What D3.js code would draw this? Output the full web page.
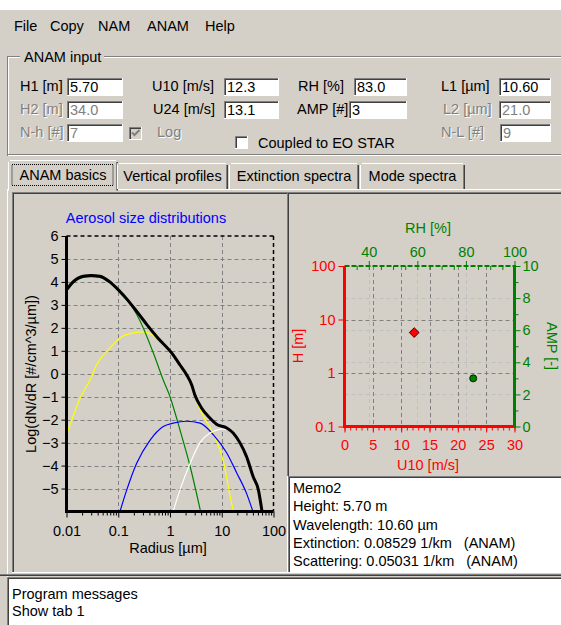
<!DOCTYPE html>
<html>
<head>
<meta charset="utf-8">
<script src="https://cdn.jsdelivr.net/npm/d3@7"></script>
<style>
body { margin: 0; background: #fff; overflow: hidden; }
svg { display: block; font-family: "Liberation Sans", Arial, sans-serif; }
</style>
</head>
<body>
<svg width="561" height="625"></svg>
<script>
// ================= DATA =================
const menuItems = ["File", "Copy", "NAM", "ANAM", "Help"];
const inputLabels = [["H1 [m]", "U10 [m/s]", "RH [%]", "L1 [µm]"],
                     ["H2 [m]", "U24 [m/s]", "AMP [#]", "L2 [µm]"],
                     ["N-h [#]", null, null, "N-L [#]"]];
const inputValues = [["5.70", "12.3", "83.0", "10.60"],
                     ["34.0", "13.1", "3", "21.0"],
                     ["7", null, null, "9"]];
const inputEnabled = [[1, 1, 1, 1], [0, 1, 1, 0], [0, 0, 0, 0]];
const tabNames = ["ANAM basics", "Vertical profiles", "Extinction spectra", "Mode spectra"];

// size distributions: [radius um, log(dN/dR)]
const totalDist = [[0.01,3.65],[0.0134,4.0],[0.021,4.25],[0.03,4.28],[0.044,4.25],[0.069,4.0],[0.108,3.58],
  [0.147,3.25],[0.23,2.7],[0.36,2.13],[0.56,1.6],[1.15,0.82],[1.56,0.38],[2.1,-0.05],[2.63,-0.49],[3.0,-0.9],
  [4.1,-1.5],[5.9,-1.93],[7.9,-2.2],[12.5,-2.36],[16.6,-2.58],[22.4,-3.0],[30,-3.6],[40.7,-4.5],[51,-5.06],[60,-6]];
const mode1Dist = [[0.01,3.6],[0.0134,3.95],[0.021,4.2],[0.03,4.23],[0.044,4.2],[0.069,3.95],[0.108,3.53],
  [0.147,3.2],[0.2,2.8],[0.264,2.3],[0.51,0.73],[0.74,-0.27],[1.0,-1.0],[1.56,-2.45],[2.45,-4.04],[3.9,-6]];
const mode2Dist = [[0.01,-2.66],[0.0196,-0.93],[0.0285,-0.27],[0.038,0.38],[0.069,1.12],[0.108,1.56],[0.194,1.78],
  [0.3,1.82],[0.45,1.7],[0.56,1.55],[1.15,0.77],[1.56,0.33],[2.1,-0.1],[2.63,-0.54],[3.0,-0.95],[4.1,-1.7],
  [6.8,-2.6],[10.6,-3.76],[16.5,-5.9],[17,-6]];
const mode3Dist = [[0.108,-6],[0.146,-5.06],[0.227,-3.9],[0.41,-2.9],[0.74,-2.3],[1.15,-2.15],[2.1,-2.07],
  [3.8,-2.15],[6.9,-2.66],[12.5,-3.45],[19.5,-4.32],[30,-5.2],[40,-6]];
const mode4Dist = [[1.15,-6],[1.56,-5.06],[2.45,-3.9],[3.8,-3.0],[5.9,-2.58],[8.5,-2.44],[10,-2.4],[12.5,-2.42],
  [16.6,-2.63],[22.4,-3.05],[30,-3.65],[40.7,-4.55],[51,-5.1],[60,-6]];
const radiusTicks = [0.01, 0.1, 1, 10, 100];
const logNTicks = [-5, -4, -3, -2, -1, 0, 1, 2, 3, 4, 5, 6];

const u10Ticks = [0, 5, 10, 15, 20, 25, 30];
const heightTicks = [0.1, 1, 10, 100];
const rhTicks = [40, 60, 80, 100];
const ampTicks = [0, 2, 4, 6, 8, 10];
const u10Value = 12.3, heightValue = 5.70, rhValue = 83.0, ampValue = 3;

const memoLines = ["Memo2", "Height: 5.70 m", "Wavelength: 10.60 µm",
  "Extinction: 0.08529 1/km   (ANAM)", "Scattering: 0.05031 1/km   (ANAM)"];
const messageLines = ["Program messages", "Show tab 1"];

// ================= HELPERS =================
const svg = d3.select("svg");
const FS = "14.5px";
const BG = "#d4d0c8";

function hline(g, x1, x2, y, c) { g.append("line").attr("x1", x1).attr("x2", x2).attr("y1", y).attr("y2", y).attr("stroke", c); }
function vline(g, x, y1, y2, c) { g.append("line").attr("x1", x).attr("x2", x).attr("y1", y1).attr("y2", y2).attr("stroke", c); }
function text(g, x, y, s, fill, anchor) {
  return g.append("text").attr("x", x).attr("y", y).text(s).attr("fill", fill || "#000")
    .attr("font-size", FS).attr("text-anchor", anchor || "start").style("white-space", "pre");
}
function sunken(g, x, y, w, h, fill) {
  g.append("rect").attr("x", x).attr("y", y).attr("width", w).attr("height", h).attr("fill", fill || "#fff");
  hline(g, x, x + w, y + 0.5, "#808080"); vline(g, x + 0.5, y, y + h, "#808080");
  hline(g, x + 1, x + w - 1, y + 1.5, "#404040"); vline(g, x + 1.5, y + 1, y + h - 1, "#404040");
  hline(g, x, x + w, y + h - 0.5, "#fff"); vline(g, x + w - 0.5, y, y + h, "#fff");
}

// ================= WINDOW =================
svg.append("rect").attr("x", 0).attr("y", 10).attr("width", 561).attr("height", 615).attr("fill", BG);

const ui = svg.append("g");
const menuX = [14, 50, 98, 147, 205];
menuItems.forEach((m, i) => text(ui, menuX[i], 31, m));

// group box
hline(ui, 7, 561, 56.5, "#808080"); hline(ui, 8, 561, 57.5, "#fff");
vline(ui, 7.5, 56, 156, "#808080"); vline(ui, 8.5, 57, 155, "#fff");
hline(ui, 7, 561, 154.5, "#808080"); hline(ui, 8, 561, 155.5, "#fff");
ui.append("rect").attr("x", 20).attr("y", 50).attr("width", 84).attr("height", 14).attr("fill", BG);
text(ui, 24, 62, "ANAM input");

const rowY = [78, 101, 124];
const labelX = [[20, 152, 298, 441], [20, 153, 297, 443], [20, 0, 0, 441]];
const boxX = [[67, 224, 354, 499], [67, 224, 349, 499], [67, 0, 0, 500]];
const boxR = [123, 279, 407, 551];
inputLabels.forEach((row, r) => row.forEach((lab, c) => {
  if (lab === null) return;
  const on = inputEnabled[r][c];
  if (!on) text(ui, labelX[r][c] + 1, rowY[r] + 14, lab, "#fff");
  text(ui, labelX[r][c], rowY[r] + 13, lab, on ? "#000" : "#808080");
  sunken(ui, boxX[r][c], rowY[r], boxR[c] - boxX[r][c], 18);
  text(ui, boxX[r][c] + 3, rowY[r] + 14, inputValues[r][c], on ? "#000" : "#808080");
}));

// checkboxes
sunken(ui, 129, 127, 13, 13, BG);
ui.append("path").attr("d", "M132,132.5 l2.5,2.5 l5,-5").attr("fill", "none").attr("stroke", "#808080").attr("stroke-width", 2);
text(ui, 158, 138, "Log", "#fff"); text(ui, 157, 137, "Log", "#808080");
sunken(ui, 235, 136, 13, 13);
text(ui, 258, 148, "Coupled to EO STAR");

// tabs
const tabX = [10, 117, 229, 360, 466];
hline(ui, 7, 561, 189.5, "#fff");
tabNames.forEach((t, i) => {
  const sel = i === 0;
  const x0 = sel ? tabX[i] - 2 : tabX[i], x1 = tabX[i + 1] - (sel ? -1 : 1);
  const y0 = sel ? 160 : 163, y1 = sel ? 190.5 : 189;
  ui.append("rect").attr("x", x0).attr("y", y0).attr("width", x1 - x0).attr("height", y1 - y0).attr("fill", BG);
  hline(ui, x0 + 2, x1 - 2, y0 + 0.5, "#fff"); vline(ui, x0 + 0.5, y0 + 2, y1, "#fff");
  vline(ui, x1 - 1.5, y0 + 2, y1, "#808080"); vline(ui, x1 - 0.5, y0 + 2, y1, "#404040");
  text(ui, (x0 + x1) / 2, y0 + (sel ? 20 : 18), t, "#000", "middle");
  if (sel) ui.append("rect").attr("x", x0 + 4).attr("y", y0 + 4.5).attr("width", x1 - x0 - 9).attr("height", 21)
    .attr("fill", "none").attr("stroke", "#000").attr("stroke-dasharray", "1,1");
});
vline(ui, 7.5, 189, 577, "#fff");

// panels
sunken(ui, 12, 192, 276, 381, BG);
sunken(ui, 287, 192, 280, 285, BG);
sunken(ui, 288, 476, 280, 97, "#fff");
memoLines.forEach((s, i) => text(ui, 293, 493 + i * 18.3, s));
hline(ui, 0, 561, 574.5, "#808080"); hline(ui, 0, 561, 575.5, "#404040");
sunken(ui, 7, 577, 560, 60, "#fff");
messageLines.forEach((s, i) => text(ui, 12, 599 + i * 16.5, s));

// ================= SIZE DISTRIBUTION CHART =================
const left = svg.append("g");
const xs = d3.scaleLog().domain([0.01, 100]).range([66.5, 273.5]);
const ys = d3.scaleLinear().domain([-6, 6]).range([511.5, 236]);

text(left, 146, 223, "Aerosol size distributions", "#0000ff", "middle");

// grid
[0.1, 1, 10].forEach(v => left.append("line").attr("x1", Math.round(xs(v)) + 0.5).attr("x2", Math.round(xs(v)) + 0.5)
  .attr("y1", ys(6)).attr("y2", ys(-6)).attr("stroke", "#808080").attr("stroke-dasharray", "4,3"));
d3.range(-5, 6).forEach(v => left.append("line").attr("x1", xs(0.01)).attr("x2", xs(100))
  .attr("y1", Math.round(ys(v)) + 0.5).attr("y2", Math.round(ys(v)) + 0.5).attr("stroke", "#808080").attr("stroke-dasharray", "4,3"));
left.append("line").attr("x1", xs(0.01)).attr("x2", xs(100)).attr("y1", ys(6)).attr("y2", ys(6))
  .attr("stroke", "#000").attr("stroke-width", 1.5).attr("stroke-dasharray", "4,3");
left.append("line").attr("x1", xs(100)).attr("x2", xs(100)).attr("y1", ys(6)).attr("y2", ys(-6))
  .attr("stroke", "#000").attr("stroke-width", 1.5).attr("stroke-dasharray", "4,3");

// curves
left.append("clipPath").attr("id", "clipL").append("rect")
  .attr("x", xs(0.01)).attr("y", ys(6)).attr("width", xs(100) - xs(0.01)).attr("height", ys(-6) - ys(6));
const line = d3.line().x(d => xs(d[0])).y(d => ys(d[1])).curve(d3.curveMonotoneX);
const curves = left.append("g").attr("clip-path", "url(#clipL)");
[[mode2Dist, "#ffff00"], [mode1Dist, "#008000"], [mode3Dist, "#0000ff"], [mode4Dist, "#ffffff"]].forEach(([d, c]) =>
  curves.append("path").datum(d).attr("fill", "none").attr("stroke", c).attr("stroke-width", 1.2).attr("d", line));
curves.append("path").datum(totalDist).attr("fill", "none").attr("stroke", "#000").attr("stroke-width", 3).attr("d", line);

// axes
function styleAxis(g, color) {
  g.select(".domain").remove();
  g.selectAll("line").attr("stroke", color);
  g.selectAll("text").attr("font-size", FS).attr("fill", color).attr("font-family", "Liberation Sans, Arial, sans-serif");
}
const minorR = [];
[0.01, 0.1, 1, 10].forEach(d => d3.range(2, 10).forEach(k => minorR.push(d * k)));
left.append("g").attr("transform", "translate(0," + ys(-6) + ")")
  .call(d3.axisBottom(xs).tickValues(minorR).tickSize(4).tickFormat("")).call(g => styleAxis(g, "#000"));
left.append("g").attr("transform", "translate(0," + ys(-6) + ")")
  .call(d3.axisBottom(xs).tickValues(radiusTicks).tickSize(6).tickPadding(8).tickFormat(d => String(d)))
  .call(g => styleAxis(g, "#000"));
left.append("g").attr("transform", "translate(" + xs(0.01) + ",0)")
  .call(d3.axisLeft(ys).tickValues(logNTicks).tickSize(5).tickPadding(3)).call(g => styleAxis(g, "#000"));
left.append("line").attr("x1", xs(0.01)).attr("x2", xs(0.01)).attr("y1", ys(6)).attr("y2", ys(-6) + 1.5)
  .attr("stroke", "#000").attr("stroke-width", 3);
left.append("line").attr("x1", xs(0.01) - 1.5).attr("x2", xs(100)).attr("y1", ys(-6)).attr("y2", ys(-6))
  .attr("stroke", "#000").attr("stroke-width", 3);
text(left, 168, 553, "Radius [µm]", "#000", "middle");
text(left, 0, 0, "Log(dN/dR [#/cm^3/µm])", "#000", "middle").attr("transform", "translate(36,374) rotate(-90)");

// ================= U10 / H / RH / AMP CHART =================
const right = svg.append("g");
const us = d3.scaleLinear().domain([0, 30]).range([344.5, 514.5]);
const hs = d3.scaleLog().domain([0.1, 100]).range([426.5, 266]);
const rs = d3.scaleLinear().domain([30, 100]).range([344.5, 514.5]);
const as = d3.scaleLinear().domain([0, 10]).range([426.5, 266]);
const RED = "#ff0000", GREEN = "#008000";

// light grid (RH / AMP)
[40, 60, 80].forEach(v => right.append("line").attr("x1", Math.round(rs(v)) + 0.5).attr("x2", Math.round(rs(v)) + 0.5)
  .attr("y1", 266).attr("y2", 426.5).attr("stroke", "#c0c0c0").attr("stroke-dasharray", "4,3"));
[2, 4, 6, 8].forEach(v => right.append("line").attr("x1", 344.5).attr("x2", 514.5)
  .attr("y1", Math.round(as(v)) + 0.5).attr("y2", Math.round(as(v)) + 0.5).attr("stroke", "#c0c0c0").attr("stroke-dasharray", "4,3"));
// dark grid (U10 / H)
[5, 10, 15, 20, 25].forEach(v => right.append("line").attr("x1", Math.round(us(v)) + 0.5).attr("x2", Math.round(us(v)) + 0.5)
  .attr("y1", 266).attr("y2", 426.5).attr("stroke", "#808080").attr("stroke-dasharray", "4,3"));
[1, 10].forEach(v => right.append("line").attr("x1", 344.5).attr("x2", 514.5)
  .attr("y1", Math.round(hs(v)) + 0.5).attr("y2", Math.round(hs(v)) + 0.5).attr("stroke", "#808080").attr("stroke-dasharray", "4,3"));

// axes
right.append("g").attr("transform", "translate(0,426.5)")
  .call(d3.axisBottom(us).tickValues(d3.range(0, 31)).tickSize(4).tickFormat("")).call(g => styleAxis(g, RED));
right.append("g").attr("transform", "translate(0,426.5)")
  .call(d3.axisBottom(us).tickValues(u10Ticks).tickSize(6).tickPadding(7)).call(g => styleAxis(g, RED));
right.append("g").attr("transform", "translate(344.5,0)")
  .call(d3.axisLeft(hs).tickValues(heightTicks).tickSize(6).tickPadding(3).tickFormat(d => String(d)))
  .call(g => styleAxis(g, RED));
right.append("g").attr("transform", "translate(0,266)")
  .call(d3.axisBottom(rs).tickValues(d3.range(30, 101, 5)).tickSize(4).tickFormat("")).call(g => styleAxis(g, GREEN));
right.append("g").attr("transform", "translate(0,266)")
  .call(d3.axisTop(rs).tickValues(rhTicks).tickSize(5).tickPadding(4)).call(g => styleAxis(g, GREEN));
right.append("g").attr("transform", "translate(514.5,0)")
  .call(d3.axisRight(as).tickValues(d3.range(1, 10, 2)).tickSize(4).tickFormat("")).call(g => styleAxis(g, GREEN));
right.append("g").attr("transform", "translate(514.5,0)")
  .call(d3.axisRight(as).tickValues(ampTicks).tickSize(6).tickPadding(2)).call(g => styleAxis(g, GREEN));

right.append("line").attr("x1", 344.5).attr("x2", 514.5).attr("y1", 266).attr("y2", 266)
  .attr("stroke", GREEN).attr("stroke-width", 2).attr("stroke-dasharray", "5,2");
right.append("line").attr("x1", 514.5).attr("x2", 514.5).attr("y1", 265).attr("y2", 427.5)
  .attr("stroke", GREEN).attr("stroke-width", 3);
right.append("line").attr("x1", 344.5).attr("x2", 344.5).attr("y1", 266).attr("y2", 428)
  .attr("stroke", RED).attr("stroke-width", 3);
right.append("line").attr("x1", 343).attr("x2", 514).attr("y1", 426.5).attr("y2", 426.5)
  .attr("stroke", RED).attr("stroke-width", 3);

text(right, 428, 233, "RH [%]", GREEN, "middle");
text(right, 428, 470, "U10 [m/s]", RED, "middle");
text(right, 0, 0, "H [m]", RED, "middle").attr("transform", "translate(303,346) rotate(-90)");
text(right, 0, 0, "AMP [-]", GREEN, "middle").attr("transform", "translate(547,346) rotate(90)");

// points
right.append("path").attr("d", d3.symbol(d3.symbolDiamond2, 60)())
  .attr("transform", "translate(" + us(u10Value) + "," + hs(heightValue) + ")")
  .attr("fill", RED).attr("stroke", "#400000").attr("stroke-width", 1);
right.append("circle").attr("cx", rs(rhValue)).attr("cy", as(ampValue)).attr("r", 3.5)
  .attr("fill", GREEN).attr("stroke", "#002000").attr("stroke-width", 1);
</script>
</body>
</html>
